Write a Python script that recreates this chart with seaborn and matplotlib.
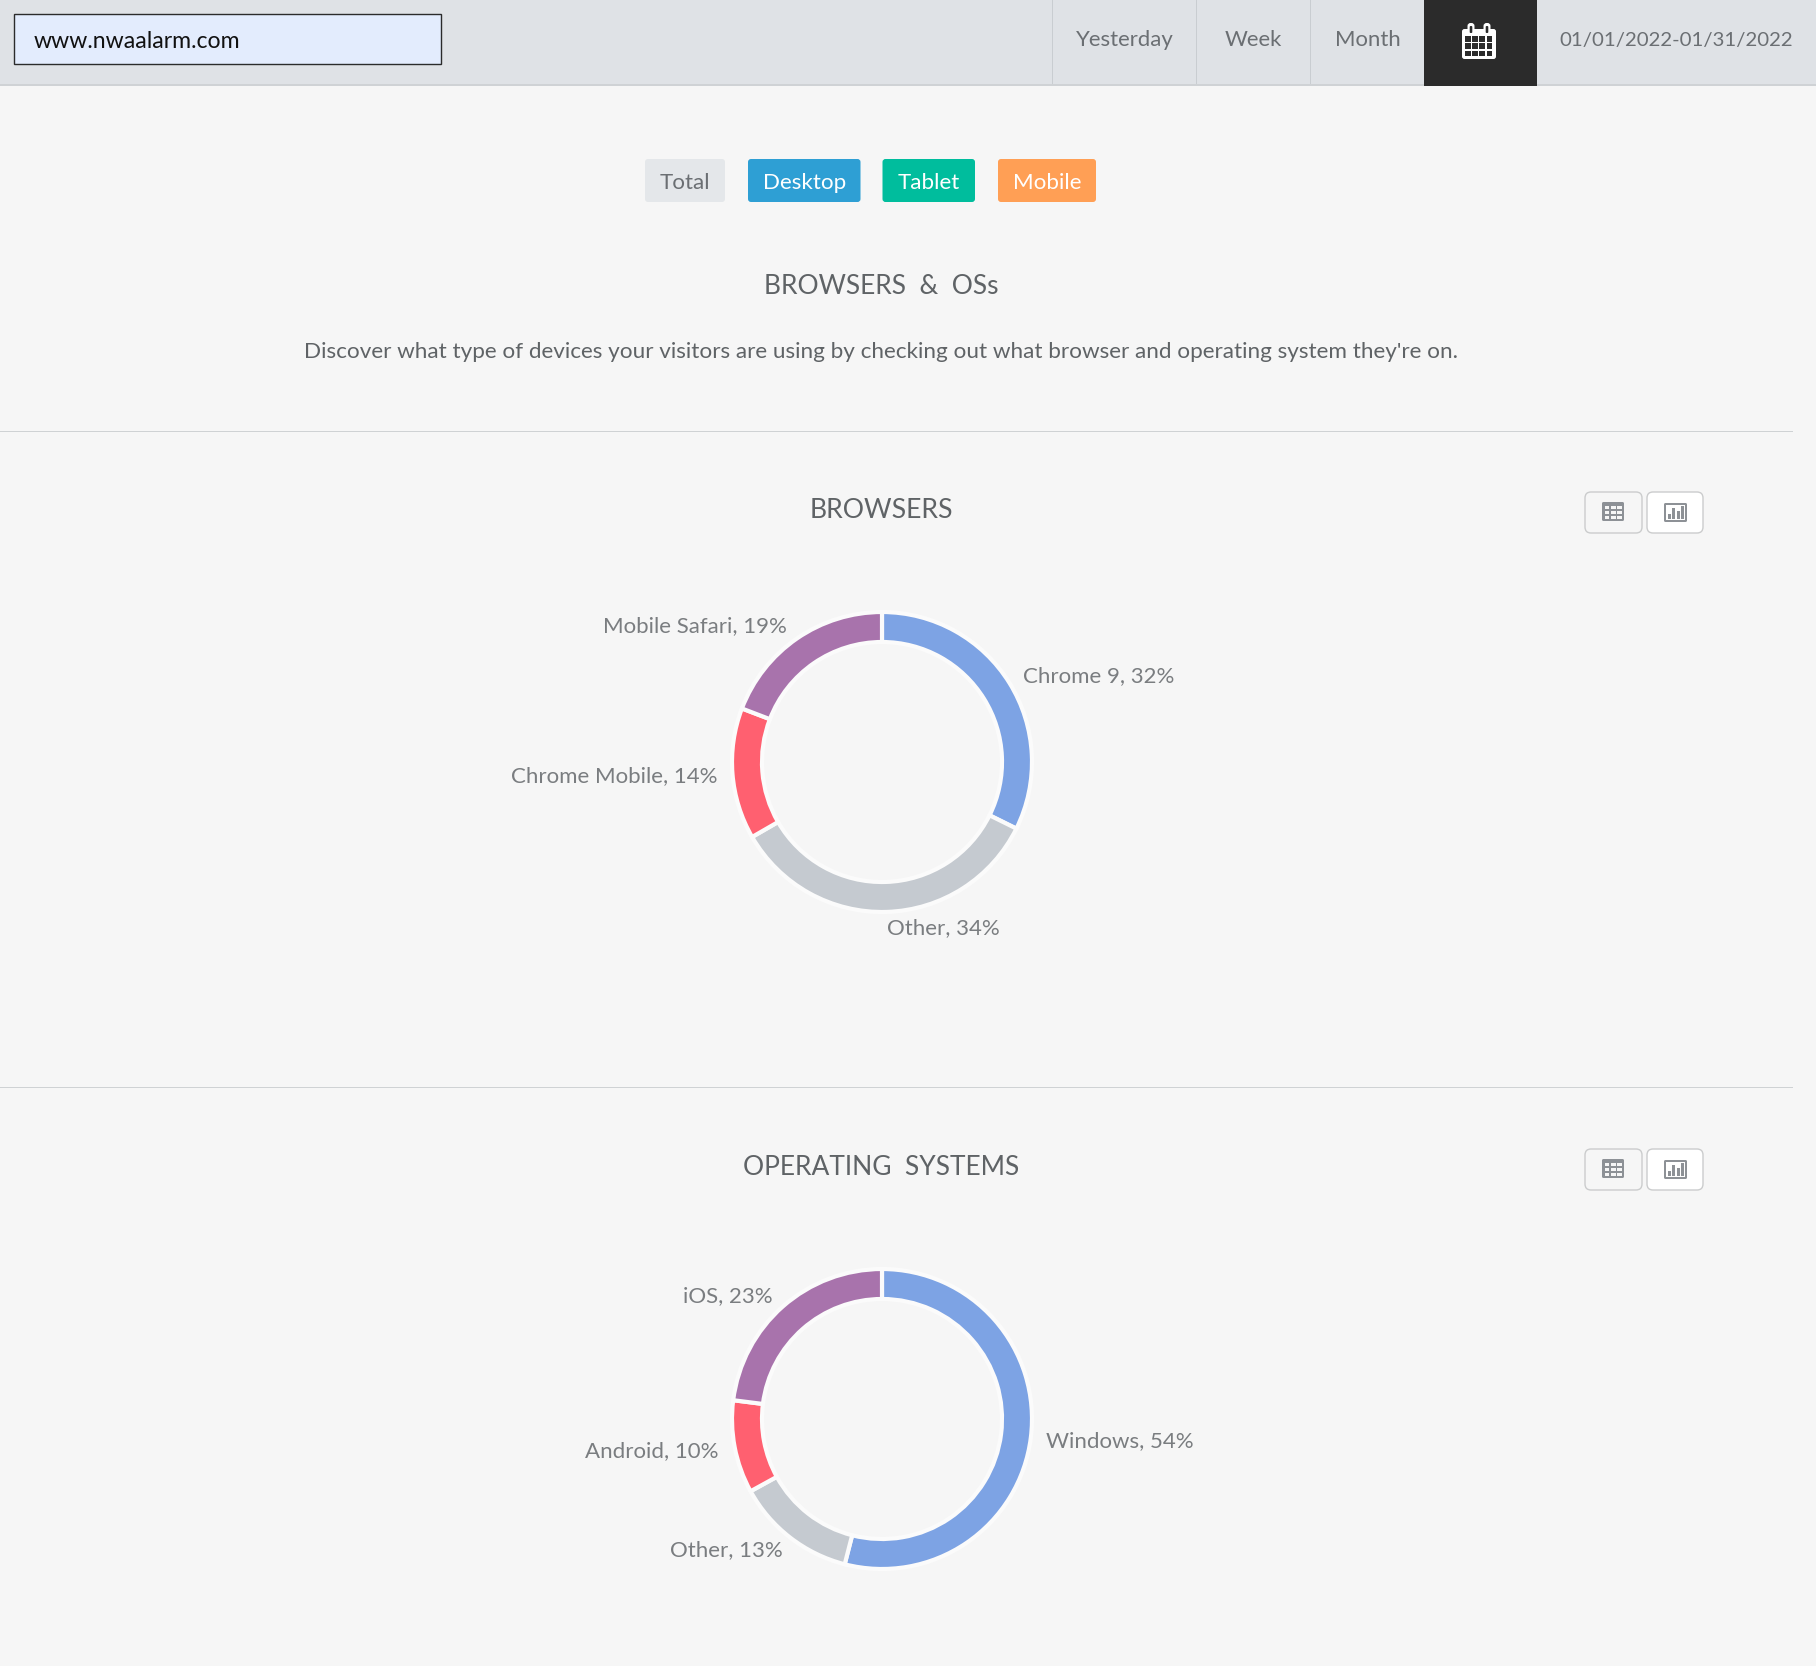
import matplotlib
matplotlib.use("Agg")
import matplotlib.pyplot as plt
from matplotlib.patches import Rectangle, FancyBboxPatch
import seaborn as sns

# data
browser_names = ["Chrome 9", "Other", "Chrome Mobile", "Mobile Safari"]
browser_share = [32, 34, 14, 19]
os_names = ["Windows", "Other", "Android", "iOS"]
os_share = [54, 13, 10, 23]
date_buttons = ["Yesterday", "Week", "Month"]
device_buttons = ["Total", "Desktop", "Tablet", "Mobile"]
site_name = "www.nwaalarm.com"
date_range = "01/01/2022-01/31/2022"

ring_colors = ["#7da3e4", "#c5cad0", "#ff6070", "#a873ac"]
BG = "#f6f6f6"
FONT = "Lato"

sns.set_theme(style="white")
plt.rcParams["font.family"] = [FONT, "DejaVu Sans"]

W, H = 1816, 1666
fig = plt.figure(figsize=(W / 100, H / 100), dpi=100, facecolor=BG)
bg = fig.add_axes([0, 0, 1, 1])
bg.set_xlim(0, W)
bg.set_ylim(H, 0)
bg.axis("off")


def rect(x0, y0, x1, y1, color, z=1, edgecolor="none", linewidth=0):
    bg.add_patch(Rectangle((x0, y0), x1 - x0, y1 - y0, facecolor=color, zorder=z,
                           edgecolor=edgecolor, linewidth=linewidth))


def rounded(x0, y0, x1, y1, face, edge="none", r=3, z=2, lw=1.0):
    bg.add_patch(FancyBboxPatch((x0 + r, y0 + r), x1 - x0 - 2 * r, y1 - y0 - 2 * r,
                                boxstyle=f"round,pad={r},rounding_size={r}",
                                facecolor=face, edgecolor=edge, linewidth=lw, zorder=z))


def label(x, y, s, color="#5f6366", size=16.2, ha="center"):
    bg.text(x, y + 1.5, s, color=color, fontsize=size, ha=ha, va="center", zorder=5)


# top bar
rect(0, 0, W, 84, "#dfe2e6")
rect(0, 84, W, 86, "#cfd2d5")
rect(14, 14, 441, 64, "#e3ecfd", z=2, edgecolor="#2b2b2b", linewidth=1.0)
label(33.5, 40, site_name, color="#111111", size=16.6, ha="left")
for x in [1052, 1196, 1310]:
    rect(x, 0, x + 1, 84, "#c9cdd1", z=2)
for x, s in zip([1124.5, 1253.5, 1368], date_buttons):
    label(x, 38.5, s, color="#6b6f73", size=15.9)
label(1676.5, 38.5, date_range, color="#6b6f73", size=14.7)

# calendar button
rect(1424, 0, 1537, 86, "#2b2b2b", z=3)
rounded(1462, 29, 1496, 59, "white", r=2.5, z=4)
for x in [1471, 1487]:
    rounded(x - 3.5, 23, x + 3.5, 34, "white", r=3, z=5)
    rounded(x - 1.3, 26, x + 1.3, 33, "#2b2b2b", r=1, z=6)
for i in range(4):
    for j in range(3):
        x0 = 1465 + i * 7.2
        y0 = 36 + j * 7.3
        rect(x0, y0, x0 + 5.6, y0 + 5.6, "#2b2b2b", z=5)

# device filter buttons
button_x = [(645, 725), (748, 860.5), (882.5, 975), (998, 1096)]
button_face = ["#e4e7ea", "#2e9fd4", "#00bd9d", "#ff9f55"]
button_text = ["#6b6f73", "white", "white", "white"]
for (x0, x1), face, tc, s in zip(button_x, button_face, button_text, device_buttons):
    rounded(x0, 159, x1, 202, face)
    label((x0 + x1) / 2, 181, s, color=tc, size=16.1)

# headings
label(881.5, 285, "BROWSERS  &  OSs", size=19)
label(881, 350.5, "Discover what type of devices your visitors are using by checking out "
      "what browser and operating system they're on.", size=16.2)
rect(0, 430.5, 1793, 431.5, "#cfd2d4")
rect(0, 1087, 1793, 1088, "#cfd2d4")
label(881.5, 509, "BROWSERS", size=19.2)
label(881.5, 1166, "OPERATING  SYSTEMS", size=19)


def icon_buttons(dy):
    rounded(1585, 492 + dy, 1642, 533 + dy, BG, edge="#cbcccd", r=6)
    rounded(1647, 492 + dy, 1703, 533 + dy, "white", edge="#cbcccd", r=6)
    # table glyph
    rounded(1602, 502 + dy, 1624, 521 + dy, "#8d9196", r=1.5, z=3)
    for i in range(3):
        for j in range(3):
            x0 = 1604.5 + i * 6.4
            y0 = 505.5 + dy + j * 5.0
            rect(x0, y0, x0 + 4.6, y0 + 3.4, BG, z=4)
    # chart glyph
    rounded(1664, 503 + dy, 1687, 522 + dy, "#8d9196", r=1.5, z=3)
    rect(1666, 505 + dy, 1685, 520 + dy, "white", z=4)
    for x, top in zip([1667.5, 1672, 1676.5, 1681], [514, 507.5, 511, 506]):
        rect(x, top + dy, x + 3, 519 + dy, "#8d9196", z=5)


def ring(share, cy):
    # half-width of the axes includes the wedge outline
    r = 150
    ax = fig.add_axes([(882 - r) / W, 1 - (cy + r) / H, 2 * r / W, 2 * r / H])
    ax.pie(share, colors=ring_colors, startangle=90, counterclock=False, radius=1,
           wedgeprops=dict(width=30 / r, edgecolor="#fbfbfb", linewidth=3.0))
    ax.set_xlim(-1, 1)
    ax.set_ylim(-1, 1)
    ax.set_facecolor("none")


icon_buttons(0)
icon_buttons(657)
ring(browser_share, 762)
ring(os_share, 1419)

# ring labels
label_color = "#7a7d80"
browser_xy = [(1023, 675), (887, 927), (511, 775), (603, 625)]
for (x, y), n, v in zip(browser_xy, browser_names, browser_share):
    label(x, y, f"{n}, {v}%", color=label_color, size=16.0, ha="left")
os_xy = [(1046, 1440), (670.5, 1549), (585, 1450), (683, 1295)]
for (x, y), n, v in zip(os_xy, os_names, os_share):
    label(x, y, f"{n}, {v}%", color=label_color, size=16.0, ha="left")

fig.savefig("out.png", dpi=100, facecolor=BG)
